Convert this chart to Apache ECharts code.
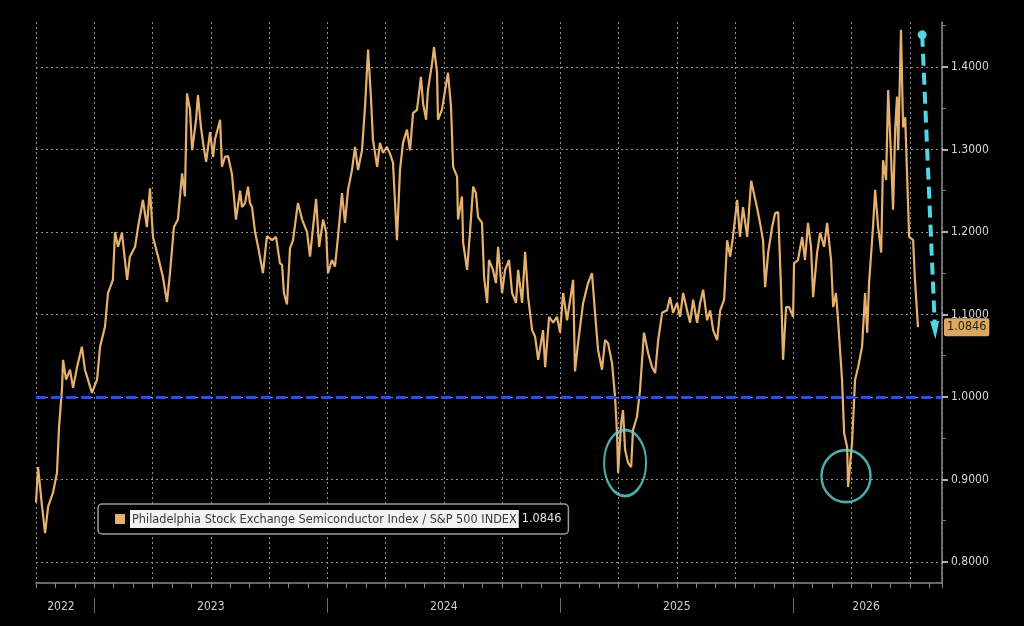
<!DOCTYPE html>
<html>
<head>
<meta charset="utf-8">
<script src="https://cdn.jsdelivr.net/npm/echarts@6.0.0/dist/echarts.min.js"></script>
<style>
html,body{margin:0;padding:0;background:#000;}
#chart{width:1024px;height:626px;}
</style>
</head>
<body>
<div id="chart"></div>
<script>
// ---- data (time in fractional years) ----
const seriesName = 'Philadelphia Stock Exchange Semiconductor Index / S&P 500 INDEX';
const times = [
2022.750,2022.759,2022.776,2022.789,2022.802,2022.823,2022.840,2022.849,2022.862,2022.866,
2022.879,2022.896,2022.909,2022.926,2022.947,2022.960,2022.973,2022.990,2023.012,2023.025,
2023.046,2023.059,2023.080,2023.089,2023.102,2023.119,2023.128,2023.141,2023.153,2023.175,
2023.188,2023.209,2023.226,2023.239,2023.252,2023.274,2023.295,2023.312,2023.325,2023.342,
2023.359,2023.377,2023.389,2023.398,2023.411,2023.420,2023.437,2023.445,2023.458,2023.467,
2023.480,2023.497,2023.510,2023.518,2023.531,2023.540,2023.548,2023.561,2023.574,2023.591,
2023.608,2023.626,2023.634,2023.647,2023.660,2023.668,2023.677,2023.690,2023.703,2023.724,
2023.741,2023.763,2023.780,2023.797,2023.806,2023.814,2023.827,2023.840,2023.853,2023.874,
2023.892,2023.913,2023.926,2023.939,2023.952,2023.965,2023.982,2023.995,2024.003,2024.020,
2024.033,2024.046,2024.063,2024.076,2024.089,2024.106,2024.119,2024.132,2024.149,2024.162,
2024.175,2024.188,2024.196,2024.214,2024.226,2024.239,2024.256,2024.269,2024.282,2024.299,
2024.312,2024.325,2024.342,2024.355,2024.368,2024.385,2024.402,2024.411,2024.424,2024.432,
2024.450,2024.458,2024.471,2024.475,2024.492,2024.501,2024.518,2024.531,2024.540,2024.557,
2024.561,2024.578,2024.583,2024.600,2024.613,2024.626,2024.638,2024.647,2024.664,2024.673,
2024.686,2024.694,2024.711,2024.724,2024.733,2024.750,2024.763,2024.780,2024.793,2024.810,
2024.819,2024.836,2024.849,2024.862,2024.879,2024.892,2024.905,2024.926,2024.935,2024.952,
2024.969,2024.986,2024.999,2025.012,2025.029,2025.055,2025.063,2025.076,2025.098,2025.119,
2025.136,2025.149,2025.162,2025.179,2025.192,2025.205,2025.222,2025.235,2025.244,2025.248,
2025.261,2025.269,2025.278,2025.291,2025.304,2025.312,2025.329,2025.342,2025.359,2025.377,
2025.394,2025.407,2025.420,2025.437,2025.458,2025.471,2025.484,2025.501,2025.514,2025.527,
2025.544,2025.557,2025.570,2025.587,2025.600,2025.613,2025.630,2025.643,2025.656,2025.673,
2025.686,2025.703,2025.716,2025.729,2025.741,2025.759,2025.771,2025.784,2025.802,2025.819,
2025.832,2025.844,2025.857,2025.870,2025.879,2025.892,2025.909,2025.922,2025.935,2025.947,
2025.956,2025.969,2025.982,2025.999,2026.003,2026.020,2026.038,2026.050,2026.063,2026.076,
2026.085,2026.102,2026.115,2026.132,2026.145,2026.162,2026.171,2026.183,2026.192,2026.209,
2026.218,2026.231,2026.235,2026.252,2026.265,2026.278,2026.295,2026.308,2026.317,2026.325,
2026.342,2026.351,2026.364,2026.377,2026.385,2026.398,2026.407,2026.420,2026.428,2026.437,
2026.445,2026.450,2026.462,2026.471,2026.480,2026.488,2026.497,2026.514,2026.522,2026.535
];
const ratio = [
0.872,0.915,0.867,0.835,0.867,0.884,0.908,0.964,1.012,1.045,
1.021,1.033,1.011,1.036,1.061,1.033,1.021,1.005,1.021,1.061,
1.085,1.126,1.142,1.200,1.182,1.199,1.175,1.142,1.170,1.182,
1.206,1.239,1.206,1.253,1.194,1.170,1.145,1.115,1.150,1.206,
1.215,1.271,1.243,1.368,1.348,1.299,1.336,1.366,1.327,1.308,
1.285,1.321,1.291,1.312,1.326,1.336,1.279,1.291,1.292,1.270,
1.215,1.250,1.230,1.235,1.255,1.235,1.230,1.200,1.182,1.150,
1.195,1.190,1.194,1.162,1.160,1.126,1.112,1.180,1.190,1.235,
1.215,1.200,1.170,1.206,1.240,1.182,1.215,1.200,1.150,1.166,
1.158,1.194,1.247,1.211,1.251,1.275,1.303,1.275,1.299,1.352,
1.421,1.360,1.312,1.279,1.308,1.296,1.303,1.295,1.284,1.190,
1.275,1.308,1.324,1.299,1.344,1.348,1.388,1.356,1.336,1.372,
1.405,1.424,1.393,1.336,1.348,1.364,1.393,1.352,1.279,1.267,
1.215,1.243,1.187,1.154,1.202,1.255,1.247,1.218,1.211,1.145,
1.114,1.166,1.154,1.138,1.182,1.126,1.154,1.166,1.126,1.114,
1.154,1.114,1.176,1.121,1.081,1.073,1.045,1.081,1.036,1.097,
1.090,1.097,1.078,1.126,1.093,1.142,1.031,1.065,1.114,1.138,
1.150,1.102,1.057,1.033,1.069,1.065,1.041,1.000,0.952,0.908,
0.968,0.984,0.936,0.920,0.915,0.960,0.976,1.008,1.078,1.053,
1.036,1.029,1.069,1.102,1.105,1.121,1.102,1.114,1.097,1.126,
1.105,1.090,1.118,1.090,1.114,1.130,1.093,1.105,1.081,1.069,
1.105,1.118,1.190,1.170,1.194,1.239,1.194,1.230,1.194,1.262,
1.245,1.230,1.211,1.190,1.133,1.175,1.206,1.223,1.224,1.133,
1.045,1.109,1.109,1.097,1.162,1.166,1.194,1.166,1.211,1.182,
1.121,1.175,1.199,1.182,1.211,1.166,1.109,1.126,1.093,1.021,
0.956,0.939,0.891,0.944,1.021,1.036,1.061,1.126,1.078,1.138,
1.206,1.251,1.206,1.175,1.287,1.263,1.372,1.287,1.227,1.324,
1.364,1.299,1.445,1.327,1.339,1.271,1.194,1.190,1.142,1.0846
];
const yTickValues = [0.8, 0.9, 1.0, 1.1, 1.2, 1.3, 1.4];
const yMinorTickValues = [0.85, 0.95, 1.05, 1.15, 1.25, 1.35, 1.45];
const yearBoundaries = [2023, 2024, 2025, 2026];
const yearLabelValues = [2022.857, 2023.5, 2024.5, 2025.5, 2026.312];
const parityLevel = 1.0;
const arrowFrom = [2026.553, 1.439];
const arrowTo = [2026.608, 1.081];
const circleCenters = [[2025.278, 0.920], [2026.226, 0.904]];
const xMin = 2022.75, xMax = 2026.638, yMin = 0.7745, yMax = 1.4545;

// ---- styles ----
const FONT = '"DejaVu Sans Condensed", "Liberation Sans Narrow", "DejaVu Sans", sans-serif';
const LINE_COLOR = '#e6b06e';
const GRID_COLOR = '#8e8e8e';
const AXIS_COLOR = '#8a8a8a';
const CYAN = '#52d6e2';
const circleSizes = [[42, 66], [49, 52]];
const lastValue = ratio[ratio.length - 1];

const chart = echarts.init(document.getElementById('chart'), null, {renderer: 'canvas'});
const option = {
  backgroundColor: '#000',
  animation: false,
  grid: {left: 36, right: 82, top: 22, bottom: 43, containLabel: false},
  xAxis: [
    {
      type: 'value', min: xMin, max: xMax, interval: 0.25, position: 'bottom',
      axisLine: {show: true, lineStyle: {color: AXIS_COLOR, width: 1.5}},
      axisTick: {show: true, length: 5, lineStyle: {color: AXIS_COLOR}},
      minorTick: {show: true, splitNumber: 3, length: 5, lineStyle: {color: AXIS_COLOR}},
      axisLabel: {show: false},
      splitLine: {show: true, lineStyle: {color: GRID_COLOR, width: 1, type: [2, 3]}}
    },
    {
      type: 'value', min: xMin, max: xMax, position: 'bottom', offset: 15,
      axisLine: {show: false},
      axisTick: {show: true, customValues: yearBoundaries, length: 15, lineStyle: {color: '#6a6a6a', width: 1}},
      axisLabel: {
        show: true, customValues: yearLabelValues, margin: 3,
        color: '#cfcfcf', fontSize: 12, fontFamily: FONT,
        formatter: v => String(Math.floor(v))
      },
      splitLine: {show: false}
    }
  ],
  yAxis: [
    {
      type: 'value', min: yMin, max: yMax, position: 'right',
      axisLine: {show: true, lineStyle: {color: AXIS_COLOR, width: 1.5}},
      axisTick: {show: true, customValues: yTickValues, length: 6, lineStyle: {color: '#b0b0b0', width: 2}},
      axisLabel: {
        show: true, customValues: yTickValues, margin: 9,
        color: '#d6d6d6', fontSize: 12, fontFamily: FONT,
        formatter: v => v.toFixed(4)
      },
      splitLine: {show: true, lineStyle: {color: GRID_COLOR, width: 1, type: [2, 3]}}
    },
    {
      type: 'value', min: yMin, max: yMax, position: 'right',
      axisLine: {show: false},
      axisTick: {show: true, customValues: yMinorTickValues, length: 4, lineStyle: {color: '#808080'}},
      axisLabel: {show: false},
      splitLine: {show: false}
    }
  ],
  legend: {
    data: [seriesName],
    left: 98, top: 504,
    icon: 'rect', itemWidth: 10, itemHeight: 10,
    padding: [6, 7, 6, 17],
    borderColor: '#9a9a9a', borderWidth: 1.5, borderRadius: 4,
    backgroundColor: '#000',
    selectedMode: false,
    textStyle: {
      color: '#e0e0e0', fontSize: 12.6, fontFamily: FONT,
      rich: {
        n: {backgroundColor: '#f2f2f2', color: '#3a3a3a', fontSize: 12.6, fontFamily: FONT, padding: [3, 2, 2, 2]},
        v: {color: '#e0e0e0', fontSize: 12.6, fontFamily: FONT, padding: [0, 0, 0, 3]}
      }
    },
    formatter: name => '{n|' + name + '}{v|' + lastValue.toFixed(4) + '}'
  },
  graphic: [
    {type: 'text', left: 104, top: 513, silent: true,
     style: {text: '⊞', fill: '#9a9a9a', font: '10px "DejaVu Sans", sans-serif'}}
  ],
  series: [
    {
      name: seriesName, type: 'line',
      data: times.map((t, i) => [t, ratio[i]]),
      showSymbol: false, symbol: 'none',
      color: LINE_COLOR,
      lineStyle: {color: LINE_COLOR, width: 2.2},
      z: 3,
      endLabel: {
        show: true, distance: 26,
        formatter: () => lastValue.toFixed(4),
        backgroundColor: '#dba864', color: '#2c1f0c',
        fontSize: 12.5, fontFamily: FONT, padding: [3, 3, 2, 3], borderRadius: 2
      },
      markLine: {
        silent: true, symbol: ['none', 'none'],
        label: {show: false},
        lineStyle: {color: '#2b53cc', width: 3, type: [10, 5]},
        data: [{yAxis: parityLevel}]
      }
    },
    {
      name: 'annotations', type: 'scatter',
      data: circleCenters,
      symbol: 'circle',
      symbolSize: (v, p) => circleSizes[p.dataIndex],
      itemStyle: {color: 'rgba(0,0,0,0)', borderColor: '#5fd6d6', borderWidth: 2.5},
      silent: true, z: 5,
      markLine: {
        silent: true,
        label: {show: false},
        symbol: ['circle', 'triangle'],
        symbolSize: [9, 18],
        lineStyle: {color: CYAN, width: 4, type: [12, 7]},
        itemStyle: {color: CYAN},
        data: [[{coord: arrowFrom}, {coord: arrowTo}]]
      }
    }
  ]
};
chart.setOption(option);
</script>
</body>
</html>
